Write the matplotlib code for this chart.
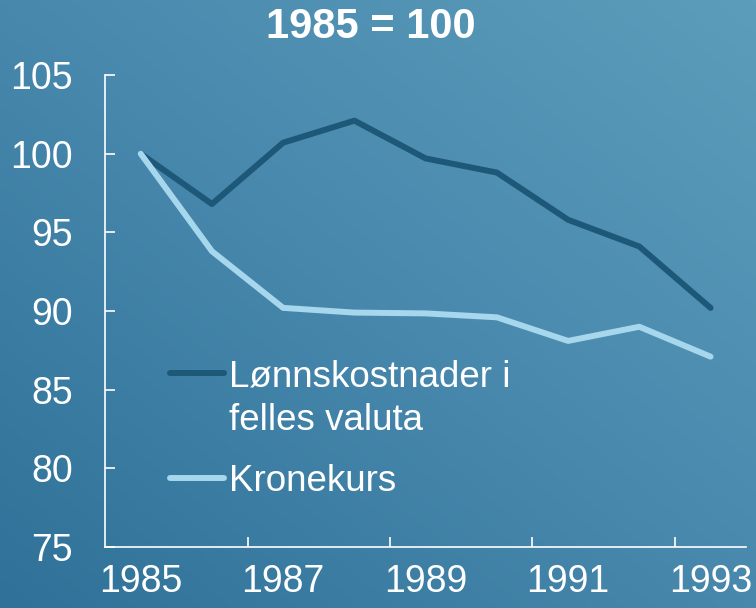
import numpy as np
import matplotlib
matplotlib.use("Agg")
import matplotlib.pyplot as plt
from matplotlib.colors import LinearSegmentedColormap
from matplotlib.lines import Line2D

# Data (1985 = 100)
aar = ["1985", "1986", "1987", "1988", "1989", "1990", "1991", "1992", "1993"]
lonnskostnader = [100.0, 96.8, 100.7, 102.1, 99.7, 98.8, 95.8, 94.1, 90.2]
kronekurs = [100.0, 93.8, 90.2, 89.9, 89.85, 89.6, 88.1, 89.0, 87.1]

plt.rcParams['font.family'] = ['Liberation Sans', 'DejaVu Sans']

fig = plt.figure(figsize=(7.56, 6.08), dpi=100)

# Background gradient (darker bottom-left, lighter top-right)
bg = fig.add_axes([0, 0, 1, 1], zorder=-1)
gx, gy = np.meshgrid(np.linspace(0, 1, 300), np.linspace(0, 1, 300))
grad = (gx + (1 - gy)) / 2
cmap = LinearSegmentedColormap.from_list("bg", ["#2f7198", "#4888ad", "#5c9dbb"])
bg.imshow(grad, cmap=cmap, aspect='auto', extent=[0, 1, 0, 1], origin='upper')
bg.axis('off')

ax = fig.add_axes([0.139, 0.1003, 0.848, 0.7763])
ax.set_facecolor('none')
x = np.arange(len(aar))
l1, = ax.plot(x, lonnskostnader, color='#1d5878', linewidth=4.3, solid_capstyle='round')
l2, = ax.plot(x, kronekurs, color='#a6d7ec', linewidth=4.3, solid_capstyle='round')

ax.set_xlim(-0.5, len(aar) - 0.5)
ax.set_ylim(75, 105)
ax.set_yticks(range(75, 106, 5))

# ticks between categories, labels at categories
ax.set_xticks([1.5, 3.5, 5.5, 7.5])
ax.set_xticklabels([])
ax.set_xticks(x[::2], minor=True)
ax.set_xticklabels(aar[::2], minor=True)
ax.tick_params(axis='x', which='major', direction='in', length=7, width=1.2, color='white')
ax.tick_params(axis='x', which='minor', length=0, pad=12, labelsize=27, labelcolor='white')
ax.tick_params(axis='y', direction='in', length=7, width=1.2, color='white',
               pad=23, labelsize=27, labelcolor='white')

for s in ['top', 'right']:
    ax.spines[s].set_visible(False)
for s in ['left', 'bottom']:
    ax.spines[s].set_color('white')
    ax.spines[s].set_linewidth(1.2)

# legend in two parts so the dark key sits on the first text line
tom = Line2D([], [], color='none')
leg_opts = dict(frameon=False, fontsize=26.5, labelcolor='white', handlelength=1.48,
                handletextpad=0.12, labelspacing=0.24, borderpad=0, borderaxespad=0,
                loc='upper left')
leg1 = ax.legend([l1, tom], ["Lønnskostnader i", "felles valuta"],
                 bbox_to_anchor=(0.101, 0.398), **leg_opts)
ax.add_artist(leg1)
ax.legend([l2], ["Kronekurs"], bbox_to_anchor=(0.101, 0.176), **leg_opts)

fig.text(0.491, 0.956, "1985 = 100", ha='center', va='center', fontsize=30,
         fontweight='bold', color='white')

fig.savefig("out.png", dpi=100)
